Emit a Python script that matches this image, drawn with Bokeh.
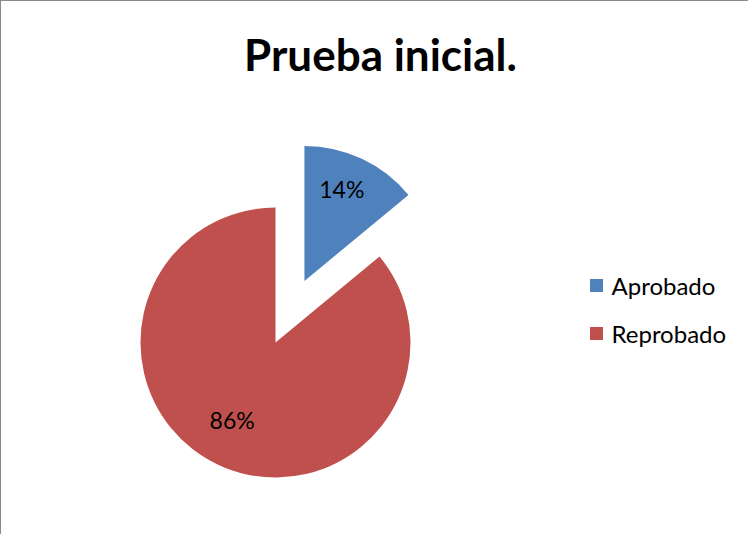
import math
from bokeh.plotting import figure
from bokeh.models import Range1d, ColumnDataSource
from bokeh.core.properties import value
from bokeh.embed import file_html
from bokeh.resources import INLINE

categories = ["Aprobado", "Reprobado"]
percents = [14, 86]
colors = ["#4F81BD", "#C0504D"]
labels = ["14%", "86%"]
title_text = "Prueba inicial."

W, H = 748, 534
p = figure(width=W, height=H, output_backend="svg", toolbar_location=None,
           x_range=Range1d(0, W), y_range=Range1d(0, H), min_border=0,
           outline_line_color=None,
           styles={"border-left": "1px solid #8a8a8a", "border-top": "1px solid #8a8a8a"})
p.axis.visible = False
p.grid.visible = False
p.background_fill_color = "white"

cx, cy, R = 274, 193, 135
explode = 68
font = "Lato"
label_shift = [(-4, 4), (-2, 10)]

# angles: start at 12 o'clock, go clockwise
total = sum(percents)
start = math.pi / 2
xs, ys, sa, ea, lx, ly = [], [], [], [], [], []
for i, v in enumerate(percents):
    sweep = 2 * math.pi * v / total
    end = start - sweep
    mid = (start + end) / 2
    off = explode if i == 0 else 0
    ox = cx + off * math.cos(mid)
    oy = cy + off * math.sin(mid)
    xs.append(ox); ys.append(oy)
    sa.append(end); ea.append(start)
    lx.append(ox + 0.72 * R * math.cos(mid) + label_shift[i][0])
    ly.append(oy + 0.72 * R * math.sin(mid) + label_shift[i][1])
    start = end

src = ColumnDataSource(dict(x=xs, y=ys, start=sa, end=ea, color=colors,
                            lx=lx, ly=ly, label=labels))
p.wedge(x="x", y="y", radius=R, start_angle="start", end_angle="end",
        fill_color="color", line_color=None, source=src)
p.text(x="lx", y="ly", text="label", source=src, text_font=value(font),
       text_font_size="23px", text_align="center", text_baseline="middle",
       text_color="black")

# title
p.text(x=[379], y=[482], text=[title_text], text_font=value(font),
       text_font_size="44px", text_font_style="bold", text_align="center",
       text_baseline="middle", text_color="black")

# legend
lgx = 595
lgy = [250, 202]
p.rect(x=[lgx] * 2, y=lgy, width=13, height=13, fill_color=colors, line_color=None)
p.text(x=[lgx + 15] * 2, y=lgy, text=categories, text_font=value(font),
       text_font_size="24px", text_align="left", text_baseline="middle",
       text_color="black")

open("out.html", "w").write(file_html(p, INLINE))
